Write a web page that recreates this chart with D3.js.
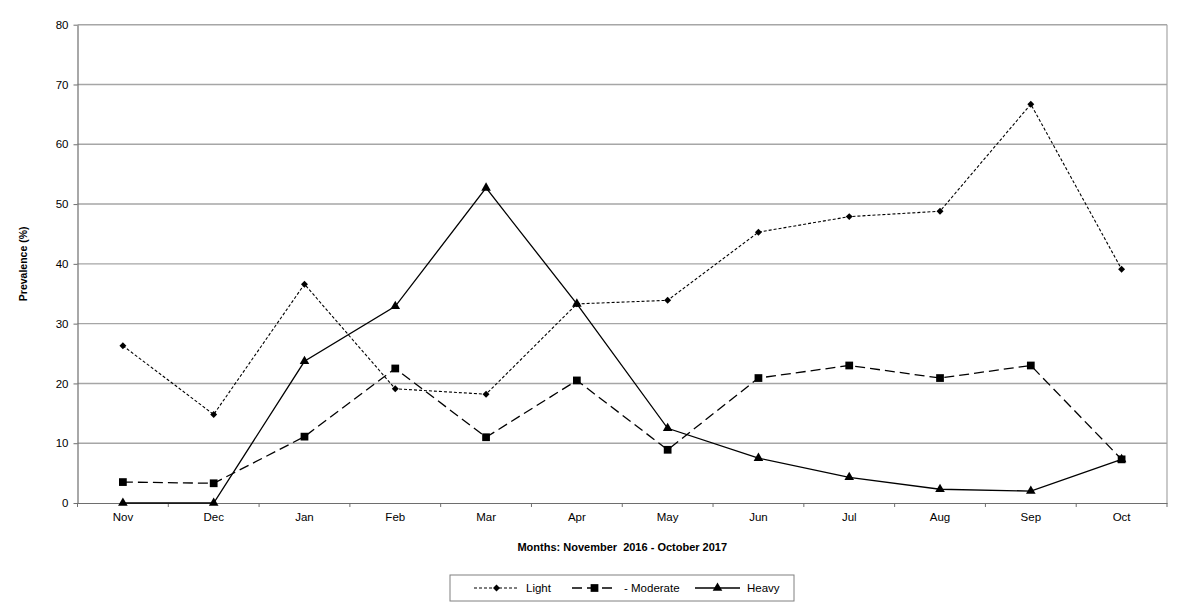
<!DOCTYPE html>
<html>
<head>
<meta charset="utf-8">
<script src="https://cdn.jsdelivr.net/npm/d3@7"></script>
<style>
  body { margin: 0; background: #fff; }
  text { font-family: "Liberation Sans", Arial, sans-serif; fill: #000; }
</style>
</head>
<body>
<svg id="chart" width="1200" height="612"></svg>
<script>
var months = ["Nov", "Dec", "Jan", "Feb", "Mar", "Apr", "May", "Jun", "Jul", "Aug", "Sep", "Oct"];
var light = [26.3, 14.8, 36.6, 19.1, 18.2, 33.3, 33.9, 45.3, 47.9, 48.8, 66.7, 39.1];
var moderate = [3.5, 3.3, 11.1, 22.5, 11.0, 20.5, 8.9, 20.9, 23.0, 20.9, 23.0, 7.3];
var heavy = [0, 0, 23.7, 32.9, 52.7, 33.3, 12.5, 7.5, 4.3, 2.3, 2.0, 7.3];
var yTicks = [0, 10, 20, 30, 40, 50, 60, 70, 80];

var series = [
  {name: "Light", values: light, dash: "3,2", width: 1.1, marker: d3.symbolSquare, size: 24, rotate: 45},
  {name: "- Moderate", values: moderate, dash: "10,5", width: 1.3, marker: d3.symbolSquare, size: 60, rotate: 0},
  {name: "Heavy", values: heavy, dash: null, width: 1.3, marker: d3.symbolTriangle, size: 40, rotate: 0}
];

var svg = d3.select("#chart"),
    margin = {top: 24.7, right: 33, bottom: 109, left: 77.5},
    width = +svg.attr("width") - margin.left - margin.right,
    height = +svg.attr("height") - margin.top - margin.bottom;

var x = d3.scaleBand().domain(months).range([0, width]),
    y = d3.scaleLinear().domain([0, 80]).range([height, 0]);

var g = svg.append("g")
    .attr("transform", "translate(" + margin.left + "," + margin.top + ")");

// gridlines
g.selectAll(".grid")
  .data(yTicks.filter(function(d) { return d > 0; }))
  .enter().append("line")
    .attr("class", "grid")
    .attr("x1", 0).attr("x2", width)
    .attr("y1", function(d) { return y(d); })
    .attr("y2", function(d) { return y(d); })
    .attr("stroke", "#a6a6a6")
    .attr("stroke-width", 1.4);

// right border
g.append("line")
    .attr("x1", width).attr("x2", width)
    .attr("y1", 0).attr("y2", height)
    .attr("stroke", "#a6a6a6")
    .attr("stroke-width", 1.2);

// x axis
var xAxis = g.append("g")
    .attr("transform", "translate(0," + height + ")")
    .call(d3.axisBottom(x).tickSize(0).tickPadding(10));
xAxis.select(".domain").attr("stroke", "#6e6e6e").attr("stroke-width", 1.2);
xAxis.selectAll("text").attr("font-size", 11.5);
g.append("g").selectAll("line")
  .data(d3.range(months.length + 1))
  .enter().append("line")
    .attr("x1", function(i) { return i * x.step(); })
    .attr("x2", function(i) { return i * x.step(); })
    .attr("y1", height).attr("y2", height + 4)
    .attr("stroke", "#6e6e6e");

// y axis
var yAxis = g.append("g")
    .call(d3.axisLeft(y).tickValues(yTicks).tickSize(4).tickPadding(5).tickSizeOuter(0));
yAxis.select(".domain").attr("stroke", "#6e6e6e").attr("stroke-width", 1.2);
yAxis.selectAll(".tick line").attr("stroke", "#6e6e6e");
yAxis.selectAll("text").attr("font-size", 11.5);

// axis titles
svg.append("text")
    .attr("transform", "translate(27," + (margin.top + height / 2) + ") rotate(-90)")
    .attr("text-anchor", "middle")
    .attr("font-size", 10.5)
    .attr("font-weight", "bold")
    .text("Prevalence (%)");

svg.append("text")
    .attr("x", margin.left + width / 2)
    .attr("y", 551)
    .attr("text-anchor", "middle")
    .attr("font-size", 11)
    .attr("font-weight", "bold")
    .attr("xml:space", "preserve")
    .style("white-space", "pre")
    .text("Months: November  2016 - October 2017");

// lines
var line = d3.line()
    .x(function(d, i) { return x(months[i]) + x.bandwidth() / 2; })
    .y(function(d) { return y(d); });

series.forEach(function(s) {
  g.append("path")
      .datum(s.values)
      .attr("fill", "none")
      .attr("stroke", "#000")
      .attr("stroke-width", s.width)
      .attr("stroke-dasharray", s.dash)
      .attr("d", line);

  g.selectAll(null)
    .data(s.values)
    .enter().append("path")
      .attr("d", d3.symbol().type(s.marker).size(s.size))
      .attr("transform", function(d, i) {
        return "translate(" + (x(months[i]) + x.bandwidth() / 2) + "," + y(d) + ") rotate(" + s.rotate + ")";
      })
      .attr("fill", "#000");
});

// legend
var legend = svg.append("g").attr("transform", "translate(450,575)");
legend.append("rect")
    .attr("width", 344).attr("height", 26)
    .attr("fill", "#fff")
    .attr("stroke", "#808080");

var legendX = [24, 122, 245];
series.forEach(function(s, i) {
  var lg = legend.append("g").attr("transform", "translate(" + legendX[i] + ",13)");
  lg.append("line")
      .attr("x1", 0).attr("x2", 45)
      .attr("stroke", "#000")
      .attr("stroke-width", s.width)
      .attr("stroke-dasharray", s.dash);
  lg.append("path")
      .attr("d", d3.symbol().type(s.marker).size(s.size))
      .attr("transform", "translate(22.5,0) rotate(" + s.rotate + ")")
      .attr("fill", "#000");
  lg.append("text")
      .attr("x", 52)
      .attr("dy", "0.35em")
      .attr("font-size", 11.5)
      .text(s.name);
});
</script>
</body>
</html>
